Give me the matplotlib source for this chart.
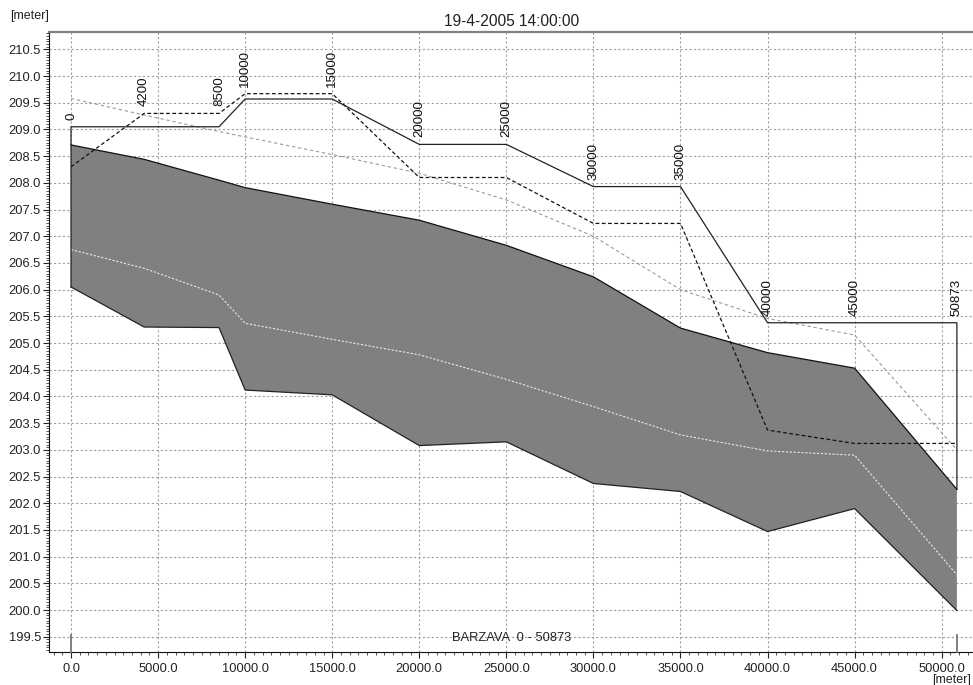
import numpy as np
import matplotlib
matplotlib.use("Agg")
import matplotlib.pyplot as plt
from matplotlib.ticker import MultipleLocator, FormatStrFormatter

plt.rcParams['font.family'] = ['Liberation Sans', 'DejaVu Sans']

# Longitudinal profile, river Barzava (chainage in m, levels in m)
chainage = [0, 4200, 8500, 10000, 15000, 20000, 25000, 30000, 35000, 40000, 45000, 50873]
water_level = [208.71, 208.44, 208.05, 207.91, 207.60, 207.30, 206.83, 206.24, 205.28, 204.82, 204.53, 202.26]
bed_level = [206.05, 205.30, 205.29, 204.12, 204.03, 203.08, 203.15, 202.37, 202.22, 201.47, 201.90, 199.99]
mid_level = [206.75, 206.40, 205.90, 205.37, 205.07, 204.78, 204.32, 203.81, 203.28, 202.98, 202.90, 200.66]
left_bank = [209.05, 209.05, 209.05, 209.57, 209.57, 208.72, 208.72, 207.93, 207.93, 205.38, 205.38, 205.38]
right_bank = [208.30, 209.30, 209.30, 209.67, 209.67, 208.10, 208.10, 207.24, 207.24, 203.37, 203.12, 203.12]
max_level = [209.58, 209.27, 208.96, 208.86, 208.53, 208.18, 207.68, 207.00, 206.00, 205.46, 205.15, 203.00]
section_labels = ['0', '4200', '8500', '10000', '15000', '20000', '25000', '30000', '35000', '40000', '45000', '50873']

title = '19-4-2005 14:00:00'
branch_label = 'BARZAVA  0 - 50873'

fig = plt.figure(figsize=(9.73, 6.85), dpi=100, facecolor='white')
ax = fig.add_axes([0.0507, 0.0486, 0.9493, 0.9051])

x = np.array(chainage)

# water body between bed and water surface
ax.fill_between(x, bed_level, water_level, facecolor='#808080', edgecolor='none', zorder=2)
ax.plot(x, water_level, color='#111111', lw=0.9, zorder=3)
ax.plot(x, bed_level, color='#222222', lw=0.9, zorder=3)
ax.plot(x, mid_level, color='#e8e8e8', lw=0.8, dashes=(2, 1.5), zorder=3)

# banks and max level
lb_x = np.concatenate([[x[0]], x, [x[-1]]])
lb_y = np.concatenate([[bed_level[0]], left_bank, [water_level[-1]]])
ax.plot(lb_x, lb_y, color='#222222', lw=0.9, zorder=4)
ax.plot(x, right_bank, color='#111111', lw=0.9, dashes=(3, 2), zorder=4)
ax.plot(x, max_level, color='#9a9a9a', lw=0.8, dashes=(3, 2.5), zorder=3)

# branch start / end markers
ylo = 199.22
for xe in (chainage[0], chainage[-1]):
    ax.plot([xe, xe], [199.53, ylo], color='#777777', lw=1.3, zorder=4, clip_on=False)

# chainage labels above the banks
for xc, lb, rb, lab in zip(chainage, left_bank, right_bank, section_labels):
    ax.annotate(lab, (xc, max(lb, rb)), xytext=(0, 5), textcoords='offset points',
                rotation=90, ha='center', va='bottom', fontsize=9.6, color='#111111', zorder=5)

ax.set_xlim(-1246, 51798)
ax.set_ylim(ylo, 210.83)

ax.xaxis.set_major_locator(MultipleLocator(5000))
ax.xaxis.set_minor_locator(MultipleLocator(500))
ax.yaxis.set_major_locator(MultipleLocator(0.5))
ax.yaxis.set_minor_locator(MultipleLocator(0.05))
ax.xaxis.set_major_formatter(FormatStrFormatter('%.1f'))
ax.yaxis.set_major_formatter(FormatStrFormatter('%.1f'))

ax.tick_params(axis='both', which='major', direction='out', length=4, width=0.8,
               color='#222222', labelsize=9.3, labelcolor='#222222')
ax.tick_params(axis='both', which='minor', direction='out', length=2.2, width=0.6, color='#333333')
ax.tick_params(axis='x', which='major', pad=4)
ax.tick_params(axis='y', which='major', pad=2)

ax.grid(True, which='major', color='#a0a0a0', lw=0.8, dashes=(2, 2))
ax.set_axisbelow(True)

ax.spines['right'].set_visible(False)
ax.spines['top'].set_color('#808080')
ax.spines['top'].set_linewidth(1.6)
ax.spines['left'].set_color('#111111')
ax.spines['bottom'].set_color('#111111')

ax.set_title(title, fontsize=11.2, color='#222222', pad=4)
ax.text(0.5, 0.012, branch_label, transform=ax.transAxes, ha='center', va='bottom',
        fontsize=9.3, color='#222222', zorder=5)

fig.text(10 / 973, 1 - 16 / 685, '[meter]', ha='left', va='center', fontsize=9, color='#222222')
fig.text(971 / 973, 1 - 680 / 685, '[meter]', ha='right', va='center', fontsize=9, color='#222222')

fig.savefig('out.png', dpi=100, facecolor='white')
